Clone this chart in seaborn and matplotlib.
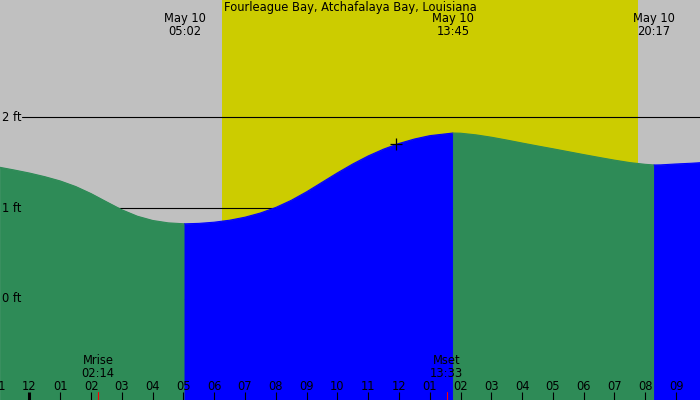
import numpy as np
import pandas as pd
import matplotlib
matplotlib.use('Agg')
import matplotlib.pyplot as plt
import matplotlib.transforms as mtrans
import seaborn as sns

# tide curve (hours after midnight May 10, feet)
tide_hours = [-0.958, -0.5, 0, 0.5, 1, 1.5, 2, 2.5, 3, 3.5, 4, 4.5, 5.033,
              5.5, 6, 6.5, 7, 7.5, 8, 8.5, 9, 9.5, 10, 10.5, 11, 11.5, 12,
              12.5, 13, 13.75, 14, 14.5, 15, 15.5, 16, 16.5, 17, 17.5, 18,
              18.5, 19, 19.5, 20, 20.283, 20.5, 21, 21.5, 21.777]
tide_ft = [1.447, 1.418, 1.384, 1.344, 1.297, 1.236, 1.158, 1.068, 0.980,
           0.910, 0.863, 0.837, 0.826, 0.831, 0.844, 0.866, 0.899, 0.945,
           1.006, 1.084, 1.178, 1.282, 1.386, 1.484, 1.572, 1.647, 1.709,
           1.758, 1.795, 1.824, 1.822, 1.804, 1.778, 1.747, 1.714, 1.682,
           1.651, 1.619, 1.587, 1.556, 1.526, 1.499, 1.480, 1.473, 1.474,
           1.484, 1.492, 1.498]

# highs / lows
extreme_hours = [5.033, 13.75, 20.283]
extreme_labels = ['May 10\n05:02', 'May 10\n13:45', 'May 10\n20:17']

sunrise, sunset = 6.25, 19.767
moon_hours = [2.233, 13.55]
moon_labels = ['Mrise\n02:14', 'Mset\n13:33']

cursor_hour, cursor_ft = 11.9, 1.703
level_ft = [0, 1, 2]
level_labels = ['0 ft', '1 ft', '2 ft']
hour_ticks = list(range(-1, 22))
title = 'Fourleague Bay, Atchafalaya Bay, Louisiana'

night = '#C0C0C0'
day = '#CCCC00'
falling = '#2E8B57'
rising = '#0000FF'

sns.set_style('white')
plt.rcParams['font.family'] = ['DejaVu Sans']
plt.rcParams['text.color'] = 'black'
fs = 8.3

df = pd.DataFrame({'hour': tide_hours, 'ft': tide_ft})

# split into falling / rising pieces at the extremes
bounds = [tide_hours[0]] + extreme_hours + [tide_hours[-1]]
pieces = []
for i in range(len(bounds) - 1):
    seg = df[(df['hour'] >= bounds[i]) & (df['hour'] <= bounds[i + 1])].copy()
    seg['seg'] = f's{i}'
    pieces.append(seg)
curve = pd.concat(pieces, ignore_index=True)
pal = {f's{i}': (falling if i % 2 == 0 else rising) for i in range(len(bounds) - 1)}

fig = plt.figure(figsize=(7, 4), dpi=100)
fig.patch.set_facecolor(night)
ax = fig.add_axes([0, 0, 1, 1])
ax.set_xlim(-0.958, 21.777)
ax.set_ylim(-1.110, 3.286)

ax.axvspan(sunrise, sunset, color=day, lw=0, zorder=0)

for lv in level_ft:
    ax.axhline(lv, xmin=22 / 700, xmax=1, color='black', lw=0.8, zorder=1)

for i, seg in enumerate(pieces):
    c = pal[f's{i}']
    ax.fill_between(seg['hour'], seg['ft'], -2, facecolor=c, edgecolor=c,
                    lw=0.6, zorder=2)
sns.lineplot(data=curve, x='hour', y='ft', hue='seg', palette=pal, legend=False,
             lw=0.8, ax=ax, zorder=3, sort=False, estimator=None)
ax.set_axis_off()

ax.plot(cursor_hour, cursor_ft, marker='+', color='black', ms=8, mew=0.9, zorder=5)

xa = mtrans.blended_transform_factory(ax.transData, ax.transAxes)
ya = mtrans.blended_transform_factory(ax.transAxes, ax.transData)

for lv, lab in zip(level_ft, level_labels):
    ax.text(2 / 700, lv, lab, transform=ya, ha='left', va='center', fontsize=fs, zorder=6)

ax.text(0.5, 1 - 7 / 400, title, transform=ax.transAxes, ha='center', va='center',
        fontsize=fs, zorder=6)
for h, lab in zip(extreme_hours, extreme_labels):
    ax.text(h, 1 - 25 / 400, lab, transform=xa, ha='center', va='center',
            fontsize=fs, linespacing=1.0, zorder=6)

for h, lab in zip(moon_hours, moon_labels):
    ax.text(h, 33 / 400, lab, transform=xa, ha='center', va='center',
            fontsize=fs, linespacing=1.0, zorder=6)
    ax.plot([h, h], [0, 8 / 400], transform=xa, color='red', lw=0.8, zorder=6)

for h in hour_ticks:
    lab = f'{(h % 12) or 12:02d}'
    ax.text(h, 14 / 400, lab, transform=xa, ha='center', va='center', fontsize=fs, zorder=6)
    ax.plot([h, h], [0, 8 / 400], transform=xa, color='black',
            lw=2.2 if h == 0 else 0.8, solid_capstyle='butt', zorder=6)

fig.savefig('out.png', dpi=100, facecolor=night)
